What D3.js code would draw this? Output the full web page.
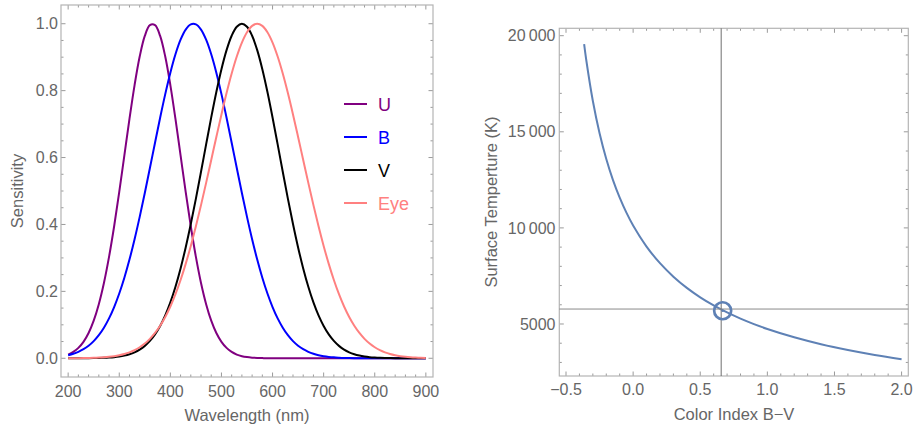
<!DOCTYPE html>
<html>
<head>
<meta charset="utf-8">
<script src="https://cdn.jsdelivr.net/npm/d3@7"></script>
<style>
  html, body { margin: 0; padding: 0; background: #fff; }
  svg { display: block; font-family: "Liberation Sans", Arial, sans-serif; }
</style>
</head>
<body>
<svg id="chart" width="913" height="430"></svg>
<script>
// ---- Filter response curves (wavelength in nm, sensitivity normalised to 1) ----
const wavelengths = d3.range(200, 901, 10);

const uBand = [0.0111,0.0189,0.0310,0.0492,0.0756,0.1124,0.1617,0.2250,0.3030,0.3946,
  0.4975,0.6065,0.7155,0.8167,0.9019,0.9635,0.9959,0.9959,0.9635,0.9019,
  0.8167,0.7155,0.6065,0.4975,0.3946,0.3030,0.2250,0.1617,0.1124,0.0756,
  0.0492,0.0310,0.0189,0.0111,0.0063,0.0035,0.0019,0.0010,0.0005,0.0002,
  0,0,0,0,0,0,0,0,0,0,0,0,0,0,0,0,0,0,0,0,0,0,0,0,0,0,0,0,0,0,0];

const bBand = [0.0092,0.0134,0.0192,0.0270,0.0375,0.0513,0.0690,0.0914,0.1192,0.1531,
  0.1935,0.2408,0.2950,0.3559,0.4226,0.4941,0.5687,0.6444,0.7189,0.7895,
  0.8537,0.9087,0.9523,0.9826,0.9981,0.9981,0.9826,0.9523,0.9087,0.8537,
  0.7895,0.7189,0.6444,0.5687,0.4941,0.4226,0.3559,0.2950,0.2408,0.1935,
  0.1531,0.1192,0.0914,0.0690,0.0513,0.0375,0.0270,0.0192,0.0134,0.0092,
  0.0062,0.0041,0.0027,0.0018,0.0011,0.0007,0.0004,0.0003,0.0002,0.0001,
  0,0,0,0,0,0,0,0,0,0,0];

const vBand = [0,0,0.0001,0.0002,0.0003,0.0005,0.0008,0.0013,0.0021,0.0033,
  0.0052,0.0080,0.0120,0.0178,0.0259,0.0370,0.0519,0.0714,0.0966,0.1282,
  0.1670,0.2137,0.2685,0.3313,0.4013,0.4773,0.5574,0.6393,0.7199,0.7959,
  0.8641,0.9211,0.9641,0.9909,1.0000,0.9909,0.9641,0.9211,0.8641,0.7959,
  0.7199,0.6393,0.5574,0.4773,0.4013,0.3313,0.2685,0.2137,0.1670,0.1282,
  0.0966,0.0714,0.0519,0.0370,0.0259,0.0178,0.0120,0.0080,0.0052,0.0033,
  0.0021,0.0013,0.0008,0.0005,0.0003,0.0002,0.0001,0,0,0,0];

const eyeBand = [0.0001,0.0002,0.0004,0.0006,0.0009,0.0013,0.0020,0.0030,0.0044,0.0063,
  0.0090,0.0127,0.0177,0.0243,0.0329,0.0439,0.0580,0.0756,0.0972,0.1234,
  0.1547,0.1915,0.2339,0.2821,0.3358,0.3946,0.4578,0.5243,0.5928,0.6615,
  0.7288,0.7926,0.8510,0.9019,0.9436,0.9745,0.9936,1.0000,0.9936,0.9745,
  0.9436,0.9019,0.8510,0.7926,0.7288,0.6615,0.5928,0.5243,0.4578,0.3946,
  0.3358,0.2821,0.2339,0.1915,0.1547,0.1234,0.0972,0.0756,0.0580,0.0439,
  0.0329,0.0243,0.0177,0.0127,0.0090,0.0063,0.0044,0.0030,0.0020,0.0013,0.0009];

const bandNames = ["U", "B", "V", "Eye"];
const bandColors = ["#800080", "#0000ff", "#000000", "#ff8080"];
const bandValues = [uBand, bBand, vBand, eyeBand];

const waveTicks = [200, 300, 400, 500, 600, 700, 800, 900];
const sensTicks = [0.0, 0.2, 0.4, 0.6, 0.8, 1.0];

// ---- Temperature versus B−V colour index ----
const colorIndex = [-0.365,-0.35,-0.3,-0.25,-0.2,-0.15,-0.1,-0.05,0,0.1,0.2,0.3,0.4,0.5,
  0.6,0.7,0.8,0.9,1.0,1.2,1.4,1.6,1.8,2.0];
const surfaceTemp = [19558,18774,16602,14924,13585,12488,11573,10795,10125,9028,8163,7462,6880,6389,
  5968,5602,5281,4996,4743,4309,3950,3649,3392,3169];

const bvTicks = [-0.5, 0.0, 0.5, 1.0, 1.5, 2.0];
const tempTicks = [5000, 10000, 15000, 20000];

// Sun: colour index and effective temperature
const sunIndex = 0.656;
const sunTemp = 5778;
const sunMarker = { bv: 0.667, t: 5690 };

const svg = d3.select("#chart");
const labelColor = "#666666";
const frameColor = "#b4b4b4";
const tickColor = "#9a9a9a";

// Draws a Mathematica-style frame with inward ticks on all four sides.
function drawFrame(g, x, y, xMajor, xMinor, yMajor, yMinor) {
  const [x0, x1] = x.range();
  const [y0, y1] = y.range(); // y0 bottom, y1 top
  const tick = (list, len, horiz) => {
    list.forEach(v => {
      if (horiz) {
        const px = x(v);
        g.append("line").attr("x1", px).attr("x2", px).attr("y1", y0).attr("y2", y0 - len)
          .attr("stroke", tickColor).attr("stroke-width", 1);
        g.append("line").attr("x1", px).attr("x2", px).attr("y1", y1).attr("y2", y1 + len)
          .attr("stroke", tickColor).attr("stroke-width", 1);
      } else {
        const py = y(v);
        g.append("line").attr("y1", py).attr("y2", py).attr("x1", x0).attr("x2", x0 + len)
          .attr("stroke", tickColor).attr("stroke-width", 1);
        g.append("line").attr("y1", py).attr("y2", py).attr("x1", x1).attr("x2", x1 - len)
          .attr("stroke", tickColor).attr("stroke-width", 1);
      }
    });
  };
  tick(xMinor, 2.5, true);
  tick(xMajor, 4.5, true);
  tick(yMinor, 2.5, false);
  tick(yMajor, 4.5, false);
  g.append("rect").attr("x", x0).attr("y", y1).attr("width", x1 - x0).attr("height", y0 - y1)
    .attr("fill", "none").attr("stroke", frameColor).attr("stroke-width", 1.2);
}

// ================= Left panel: filter sensitivities =================
{
  const x = d3.scaleLinear().domain([186, 914]).range([61, 433]);
  const y = d3.scaleLinear().domain([-0.056, 1.056]).range([377, 5]);
  const g = svg.append("g");

  const minorX = d3.range(200, 901, 20).filter(v => v % 100 !== 0);
  const minorY = d3.range(0, 1.0001, 0.05).map(v => +v.toFixed(2)).filter(v => Math.abs(v * 5 - Math.round(v * 5)) > 1e-6);
  drawFrame(g, x, y, waveTicks, minorX, sensTicks, minorY);

  const line = d3.line().curve(d3.curveCatmullRom.alpha(0.5))
    .x((d, i) => x(wavelengths[i])).y(d => y(d));

  bandValues.forEach((vals, k) => {
    g.append("path").datum(vals).attr("d", line)
      .attr("fill", "none").attr("stroke", bandColors[k]).attr("stroke-width", 2);
  });

  // tick labels
  g.selectAll(".xl").data(waveTicks).join("text")
    .attr("x", d => x(d)).attr("y", 397).attr("text-anchor", "middle")
    .attr("font-size", 16).attr("fill", labelColor).text(d => d);
  g.selectAll(".yl").data(sensTicks).join("text")
    .attr("x", 58).attr("y", d => y(d) + 5.7).attr("text-anchor", "end")
    .attr("font-size", 16).attr("fill", labelColor).text(d => d3.format(".1f")(d));

  g.append("text").attr("x", 247).attr("y", 421).attr("text-anchor", "middle")
    .attr("font-size", 16.5).attr("fill", labelColor).text("Wavelength (nm)");
  g.append("text").attr("transform", "translate(23,191) rotate(-90)").attr("text-anchor", "middle")
    .attr("font-size", 16.5).attr("fill", labelColor).text("Sensitivity");

  // legend
  const lg = g.append("g");
  bandNames.forEach((name, k) => {
    const cy = 104 + k * 33;
    lg.append("line").attr("x1", 344).attr("x2", 367).attr("y1", cy).attr("y2", cy)
      .attr("stroke", bandColors[k]).attr("stroke-width", 2);
    lg.append("text").attr("x", 378).attr("y", cy + 6.5).attr("font-size", 18)
      .attr("fill", bandColors[k]).text(name);
  });
}

// ================= Right panel: temperature vs colour index =================
{
  const x = d3.scaleLinear().domain([-0.55, 2.05]).range([559.3, 908.3]);
  const y = d3.scaleLinear().domain([2294, 20385]).range([376, 28.3]);
  const g = svg.append("g");

  const minorX = d3.range(-5, 21, 1).map(v => v / 10).filter(v => Math.abs(v * 2 - Math.round(v * 2)) > 1e-6);
  const minorY = d3.range(3000, 20001, 1000).filter(v => v % 5000 !== 0);
  drawFrame(g, x, y, bvTicks, minorX, tempTicks, minorY);

  const line = d3.line().curve(d3.curveCatmullRom.alpha(0.5))
    .x((d, i) => x(colorIndex[i])).y(d => y(d));
  g.append("path").datum(surfaceTemp).attr("d", line)
    .attr("fill", "none").attr("stroke", "#5e81b5").attr("stroke-width", 2);

  // reference lines through the Sun's values
  g.append("line").attr("x1", x(sunIndex)).attr("x2", x(sunIndex))
    .attr("y1", y.range()[0]).attr("y2", y.range()[1])
    .attr("stroke", "#6e6e6e").attr("stroke-width", 1);
  g.append("line").attr("x1", x.range()[0]).attr("x2", x.range()[1])
    .attr("y1", y(sunTemp)).attr("y2", y(sunTemp))
    .attr("stroke", "#8a8a8a").attr("stroke-width", 1);

  g.append("circle").attr("cx", x(sunMarker.bv)).attr("cy", y(sunMarker.t)).attr("r", 8.5)
    .attr("fill", "none").attr("stroke", "#5e81b5").attr("stroke-width", 2.7);
  g.append("circle").attr("cx", x(sunMarker.bv)).attr("cy", y(sunMarker.t)).attr("r", 1.3)
    .attr("fill", "#5e81b5");

  const tempFmt = d => d >= 10000 ? d3.format(",")(d).replace(",", "\u2009") : String(d);
  g.selectAll(".xl").data(bvTicks).join("text")
    .attr("x", d => x(d)).attr("y", 395).attr("text-anchor", "middle")
    .attr("font-size", 16).attr("fill", labelColor).text(d => d3.format(".1f")(d).replace("-", "\u2212"));
  g.selectAll(".yl").data(tempTicks).join("text")
    .attr("x", 555.5).attr("y", d => y(d) + 5.7).attr("text-anchor", "end")
    .attr("font-size", 16).attr("fill", labelColor).text(tempFmt);

  g.append("text").attr("x", 734).attr("y", 420).attr("text-anchor", "middle")
    .attr("font-size", 16.5).attr("fill", labelColor).text("Color Index B\u2212V");
  g.append("text").attr("transform", "translate(497,202) rotate(-90)").attr("text-anchor", "middle")
    .attr("font-size", 16.5).attr("fill", labelColor).text("Surface Temperture (K)");
}
</script>
</body>
</html>
